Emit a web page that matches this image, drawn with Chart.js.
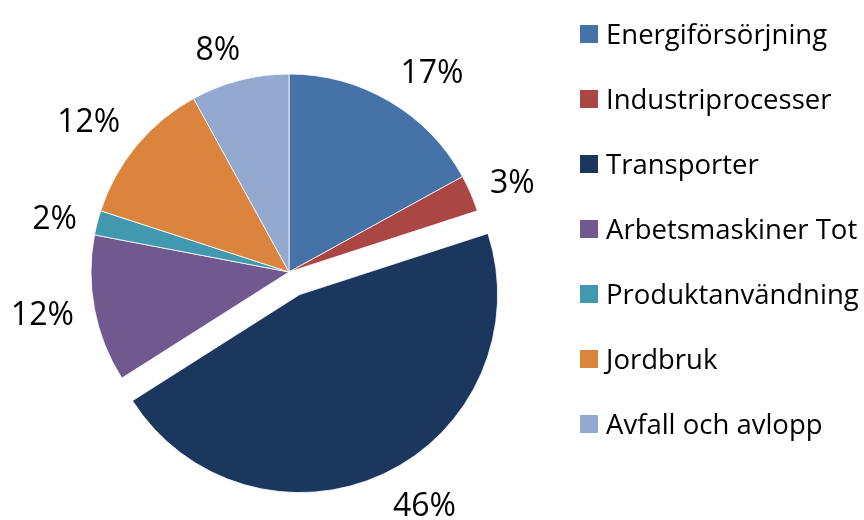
<!DOCTYPE html>
<html>
<head>
<meta charset="utf-8">
<script src="https://cdn.jsdelivr.net/npm/chart.js@4"></script>
<style>
  html, body { margin: 0; padding: 0; background: #ffffff; }
  #wrap { width: 864px; height: 520px; }
</style>
</head>
<body>
<div id="wrap"><canvas id="pieChart" width="864" height="520"></canvas></div>
<script>
// Utsläpp per sektor (andel i procent)
const categories = [
  'Energiförsörjning',
  'Industriprocesser',
  'Transporter',
  'Arbetsmaskiner Tot',
  'Produktanvändning',
  'Jordbruk',
  'Avfall och avlopp'
];
const shares = [17, 3, 46, 12, 2, 12, 8];
const sliceColors = ['#4572A7', '#AA4643', '#1B375E', '#71588F', '#4198AF', '#DB843D', '#93A9CF'];
const exploded = [false, false, true, false, false, false, false];

const FONT = '"Open Sans", "Noto Sans", sans-serif';
const EXPLODE_DIST = 25;

function clamp(v) {
  return Math.max(-1, Math.min(1, v));
}

// flytta ut den utbrutna sektorn utan att ändra radien
const explodePlugin = {
  id: 'explode',
  afterDatasetsUpdate(chart) {
    const arcs = chart.getDatasetMeta(0).data;
    arcs.forEach((arc, i) => {
      if (!exploded[i]) return;
      const mid = (arc.startAngle + arc.endAngle) / 2;
      arc.x += Math.cos(mid) * EXPLODE_DIST;
      arc.y += Math.sin(mid) * EXPLODE_DIST;
    });
  }
};

// procentetiketter utanför sektorerna (ungefär som Excels "utanför slutet")
const pctLabelPlugin = {
  id: 'pctLabels',
  afterDatasetsDraw(chart) {
    const ctx = chart.ctx;
    const arcs = chart.getDatasetMeta(0).data;
    const total = shares.reduce((a, b) => a + b, 0);
    const capH = 23;
    ctx.save();
    ctx.font = `32px ${FONT}`;
    ctx.fillStyle = '#000000';
    ctx.textAlign = 'center';
    ctx.textBaseline = 'alphabetic';
    arcs.forEach((arc, i) => {
      const text = `${Math.round(shares[i] / total * 100)}%`;
      const w = ctx.measureText(text).width;
      const mid = (arc.startAngle + arc.endAngle) / 2;
      const ux = Math.cos(mid);
      const uy = Math.sin(mid);
      const d = arc.outerRadius + 21;
      const fx = clamp(3 * ux);
      const fy = Math.sign(uy) * Math.max(0, Math.min(1, (Math.abs(uy) - 0.3) / 0.3));
      const x = arc.x + ux * d + fx * w / 2;
      const y = arc.y + uy * d + fy * capH / 2;
      ctx.fillText(text, x, y + capH / 2);
    });
    ctx.restore();
  }
};

// förklaring till höger
const legendPlugin = {
  id: 'sideLegend',
  afterDraw(chart) {
    const ctx = chart.ctx;
    const boxX = 580, boxSize = 18, textX = 606, firstY = 34, step = 65;
    ctx.save();
    ctx.font = `27.5px ${FONT}`;
    ctx.textAlign = 'left';
    ctx.textBaseline = 'alphabetic';
    chart.data.labels.forEach((label, i) => {
      const cy = firstY + i * step;
      ctx.fillStyle = chart.data.datasets[0].backgroundColor[i];
      ctx.fillRect(boxX, cy - boxSize / 2, boxSize, boxSize);
      ctx.fillStyle = '#000000';
      ctx.fillText(label, textX, cy + 9.5);
    });
    ctx.restore();
  }
};

new Chart(document.getElementById('pieChart').getContext('2d'), {
  type: 'pie',
  data: {
    labels: categories,
    datasets: [{
      data: shares,
      backgroundColor: sliceColors,
      borderColor: '#ffffff',
      borderWidth: 0.8,
      radius: 198
    }]
  },
  options: {
    responsive: false,
    animation: false,
    events: [],
    layout: { padding: { left: 69, right: 355, top: 52, bottom: 28 } },
    plugins: {
      legend: { display: false },
      tooltip: { enabled: false },
      title: { display: false }
    }
  },
  plugins: [explodePlugin, pctLabelPlugin, legendPlugin]
});
</script>
</body>
</html>
